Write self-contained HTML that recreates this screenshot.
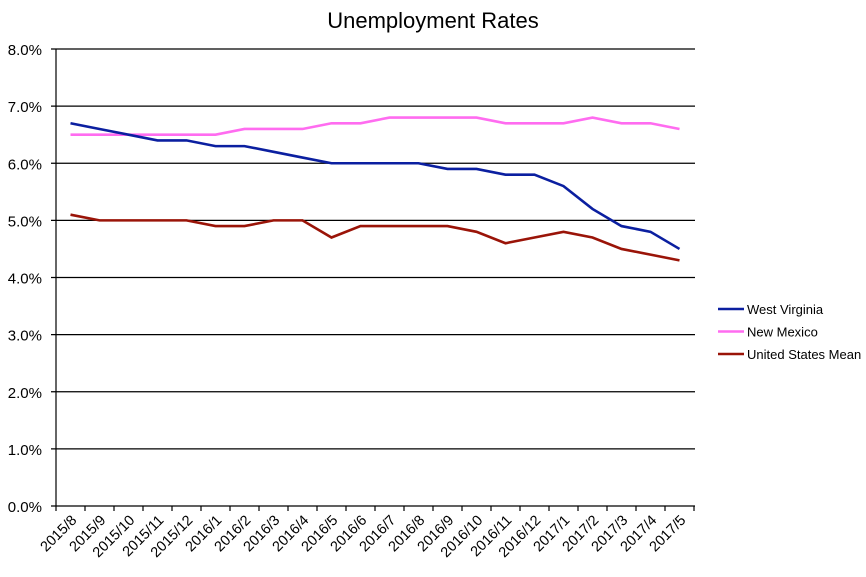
<!DOCTYPE html><html><head><style>body{margin:0;background:#fff}</style></head><body>
<svg width="866" height="572" xmlns="http://www.w3.org/2000/svg" font-family="Liberation Sans, sans-serif">
<text x="433" y="28" text-anchor="middle" font-size="22">Unemployment Rates</text>
<script>
const s=document.querySelector('svg'),NS='http://www.w3.org/2000/svg';
function el(t,a,tx){const e=document.createElementNS(NS,t);for(const k in a)e.setAttribute(k,a[k]);if(tx)e.textContent=tx;s.appendChild(e);return e}
const y=v=>506-v*57.125, X=i=>56+14.5+29*i;
for(let v=0;v<=8;v++){const yy=y(v);el('line',{x1:51,x2:695,y1:yy,y2:yy,stroke:'#000','stroke-width':1.2});el('text',{x:42,y:yy+6,'text-anchor':'end','font-size':15},v.toFixed(1)+'%')}
el('line',{x1:56,x2:56,y1:49,y2:506,stroke:'#000','stroke-width':1.2});
const labs=['2015/8','2015/9','2015/10','2015/11','2015/12','2016/1','2016/2','2016/3','2016/4','2016/5','2016/6','2016/7','2016/8','2016/9','2016/10','2016/11','2016/12','2017/1','2017/2','2017/3','2017/4','2017/5'];
for(let i=0;i<=22;i++)el('line',{x1:56+29*i,x2:56+29*i,y1:506,y2:511,stroke:'#000','stroke-width':1.2});
labs.forEach((l,i)=>{const x=X(i)+7,yy=521;el('text',{x:x,y:yy,'text-anchor':'end','font-size':14.5,transform:`rotate(-45 ${x} ${yy})`},l)});
const D=[['#0b1fa0',[6.7,6.6,6.5,6.4,6.4,6.3,6.3,6.2,6.1,6.0,6.0,6.0,6.0,5.9,5.9,5.8,5.8,5.6,5.2,4.9,4.8,4.5],'West Virginia'],
['#ff6cf0',[6.5,6.5,6.5,6.5,6.5,6.5,6.6,6.6,6.6,6.7,6.7,6.8,6.8,6.8,6.8,6.7,6.7,6.7,6.8,6.7,6.7,6.6],'New Mexico'],
['#9a1408',[5.1,5.0,5.0,5.0,5.0,4.9,4.9,5.0,5.0,4.7,4.9,4.9,4.9,4.9,4.8,4.6,4.7,4.8,4.7,4.5,4.4,4.3],'United States Mean']];
[D[1],D[0],D[2]].forEach(d=>el('polyline',{points:d[1].map((v,i)=>X(i)+','+y(v)).join(' '),fill:'none',stroke:d[0],'stroke-width':2.6}));
D.forEach((d,i)=>{const yy=309+22.5*i;el('line',{x1:718,x2:744,y1:yy,y2:yy,stroke:d[0],'stroke-width':2.6});el('text',{x:747,y:yy+5,'font-size':13},d[2])});
</script>
</svg></body></html>
